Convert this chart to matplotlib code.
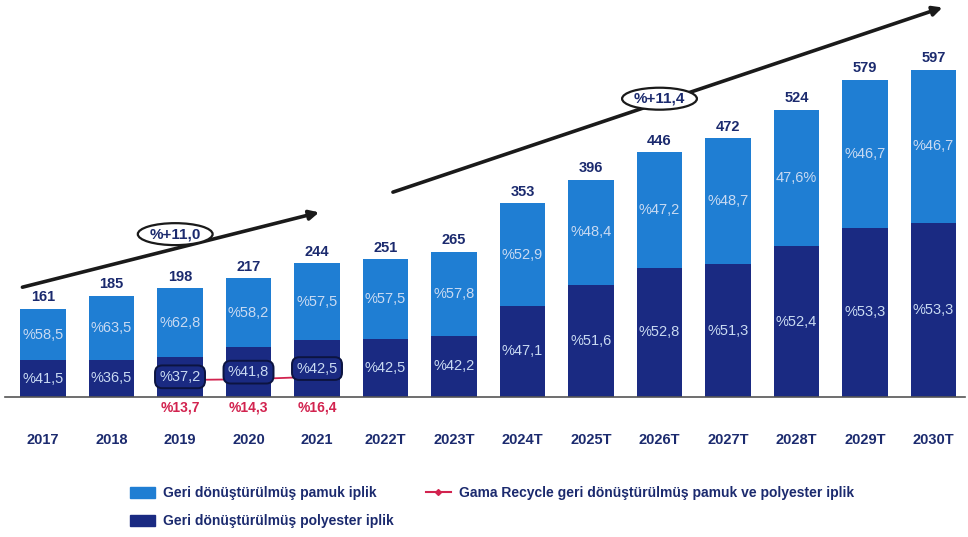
import matplotlib.pyplot as plt
import numpy as np
from matplotlib.lines import Line2D
from matplotlib.patches import Patch

plt.rcParams['font.family'] = ['Liberation Sans', 'DejaVu Sans']

years = ['2017', '2018', '2019', '2020', '2021', '2022T', '2023T', '2024T',
         '2025T', '2026T', '2027T', '2028T', '2029T', '2030T']
total = [161, 185, 198, 217, 244, 251, 265, 353, 396, 446, 472, 524, 579, 597]
pamuk_pct = [58.5, 63.5, 62.8, 58.2, 57.5, 57.5, 57.8, 52.9, 48.4, 47.2, 48.7, 47.6, 46.7, 46.7]
polyester_pct = [41.5, 36.5, 37.2, 41.8, 42.5, 42.5, 42.2, 47.1, 51.6, 52.8, 51.3, 52.4, 53.3, 53.3]
gama_years = ['2019', '2020', '2021']
gama_pct = [13.7, 14.3, 16.4]

light = '#1f7ed3'
dark = '#1a2a82'
navy_txt = '#1b2a6e'
red = '#d2234f'

fig = plt.figure(figsize=(9.68, 5.37), dpi=100)
ax = fig.add_axes([5 / 968, 1 - 397 / 537, 960 / 968, 397 / 537])

x = np.arange(len(years))
tot = np.array(total, dtype=float)
poly = tot * np.array(polyester_pct) / 100
cot = tot - poly
w = 0.66

ax.bar(x, poly, w, color=dark, zorder=2)
ax.bar(x, cot, w, bottom=poly, color=light, zorder=2)

def fmt(v):
    return '%' + f'{v:.1f}'.replace('.', ',')

for i in range(len(years)):
    ax.text(x[i], tot[i] + 8, str(total[i]), ha='center', va='bottom',
            fontsize=10.5, fontweight='bold', color=navy_txt, zorder=5)
    lab = fmt(pamuk_pct[i])
    if years[i] == '2028T':
        lab = f'{pamuk_pct[i]:.1f}%'.replace('.', ',')
    ax.text(x[i], poly[i] + cot[i] / 2, lab, ha='center', va='center',
            fontsize=10.5, color='#c9daf2', zorder=5)
    boxed = years[i] in gama_years
    ax.text(x[i], poly[i] / 2, fmt(polyester_pct[i]), ha='center', va='center',
            fontsize=10.5, color='#c9daf2', zorder=6,
            bbox=dict(boxstyle='round,pad=0.3,rounding_size=0.5', fc=dark,
                      ec='#0c1440', lw=1.4) if boxed else None)

# Gama Recycle share on its own scale
ax2 = ax.twinx()
gx = [years.index(y) for y in gama_years]
ax2.plot(gx, gama_pct, color=red, lw=1.3, marker='D', ms=3, zorder=1)
ax2.set_ylim(0, 320)
ax2.axis('off')
ax.set_zorder(ax2.get_zorder() + 1)
ax.patch.set_visible(False)
for gi, v in zip(gx, gama_pct):
    ax.text(gi, -6, fmt(v), ha='center', va='top', fontsize=10,
            fontweight='bold', color=red, zorder=6)

ax.set_xlim(-0.555, 13.46)
ax.set_ylim(0, 724)
for s in ['top', 'right', 'left']:
    ax.spines[s].set_visible(False)
ax.spines['bottom'].set_color('#555555')
ax.spines['bottom'].set_linewidth(1.2)
ax.set_yticks([])
ax.set_xticks(x)
ax.set_xticklabels(years, fontsize=10.5, fontweight='bold', color=navy_txt)
ax.tick_params(axis='x', length=0, pad=26)

# growth arrows
ax.annotate('', xy=(4.07, 338), xytext=(-0.34, 199), annotation_clip=False,
            arrowprops=dict(arrowstyle='-|>', color='#1a1a1a', lw=2.6,
                            mutation_scale=14))
ax.annotate('', xy=(13.17, 712), xytext=(5.07, 372), annotation_clip=False,
            arrowprops=dict(arrowstyle='-|>', color='#1a1a1a', lw=2.6,
                            mutation_scale=14))
for xc, yc, txt in [(1.93, 297, '%+11,0'), (9.0, 544, '%+11,4')]:
    ax.text(xc, yc, txt, ha='center', va='center', fontsize=11,
            fontweight='bold', color=navy_txt, zorder=7,
            bbox=dict(boxstyle='ellipse,pad=0.05', fc='white',
                      ec='#1a1a1a', lw=1.6))

handles = [Patch(color=light), Patch(color=dark),
           Line2D([], [], color=red, lw=1.5, marker='D', ms=3)]
labels = ['Geri dönüştürülmüş pamuk iplik', 'Geri dönüştürülmüş polyester iplik',
          'Gama Recycle geri dönüştürülmüş pamuk ve polyester iplik']
leg = fig.legend(handles, labels, ncol=2, loc='upper left',
                 bbox_to_anchor=(117 / 968, 1 - 474 / 537), frameon=False,
                 prop=dict(size=10, weight='bold'), handlelength=1.8,
                 handleheight=0.8, handletextpad=0.6,
                 columnspacing=2.3, labelspacing=1.0)
for t in leg.get_texts():
    t.set_color(navy_txt)

fig.savefig('out.png', dpi=100)
